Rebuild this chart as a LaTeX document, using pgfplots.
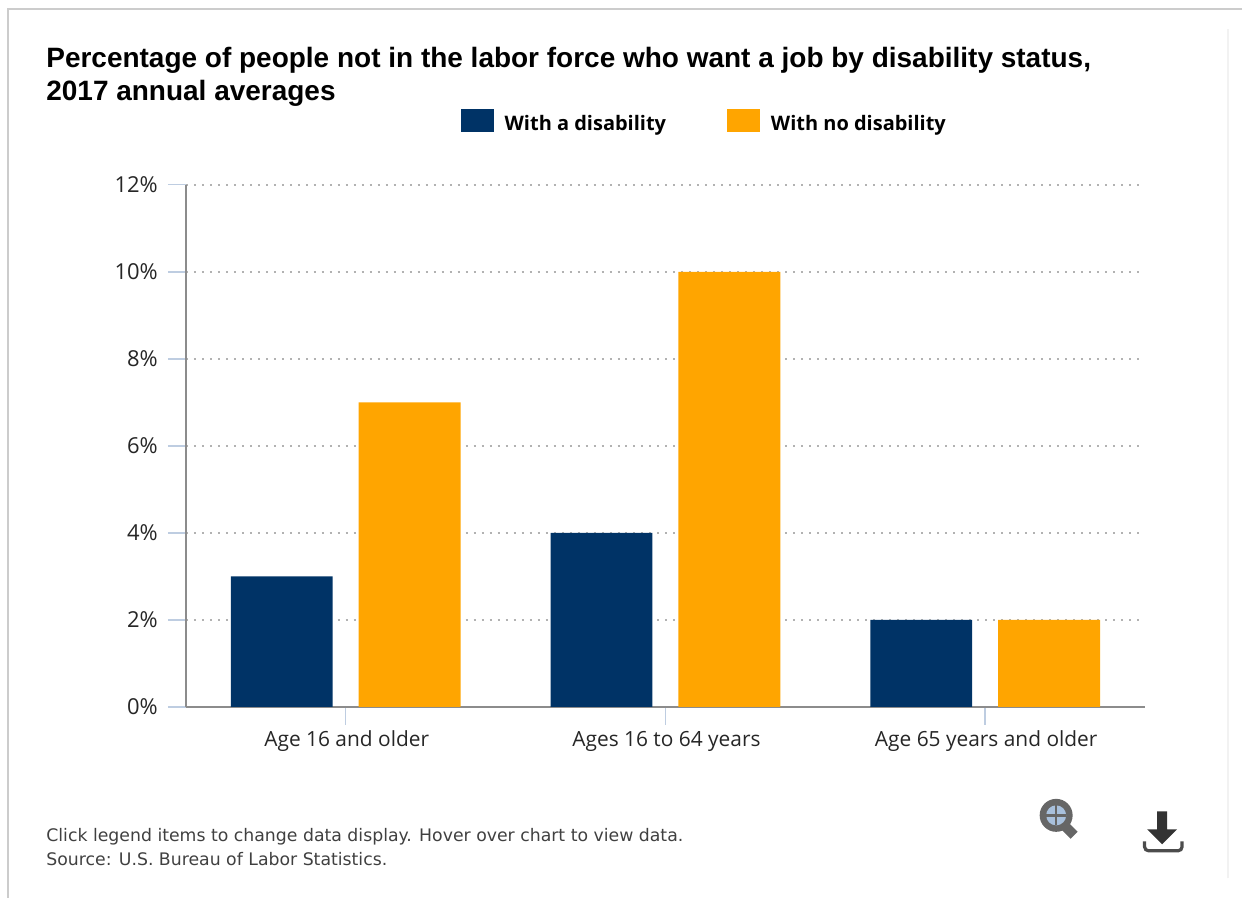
\documentclass[border=0pt]{standalone}
\usepackage{pgfplots}
\pgfplotsset{compat=1.18}
\usepackage{fontspec}
\setmainfont{Open Sans}
\newfontfamily\titlefont{Liberation Sans}
\newfontfamily\notefont{DejaVu Sans}
\definecolor{navy}{RGB}{0,51,102}
\definecolor{amber}{RGB}{255,165,0}
\definecolor{tickblue}{RGB}{190,205,225}
\definecolor{axisgrey}{RGB}{140,140,140}
\definecolor{framegrey}{RGB}{204,204,204}
\definecolor{lensblue}{RGB}{168,192,220}
\pgfplotstableread{
pos disability nodisability
0 3 7
1 4 10
2 2 2
}\agegroups
\begin{document}
\begin{tikzpicture}[x=0.5pt,y=0.5pt]
% page extent and outer frame
\path (0,0) rectangle (1243,899);
\draw[framegrey,line width=1pt] (1243,890) -- (8.5,890) -- (8.5,0);
\draw[black!5,line width=1pt] (1229,20) -- (1229,870);
\begin{axis}[
  at={(93pt,95.75pt)},anchor=south west,
  scale only axis,width=480pt,height=261.3pt,
  xmin=-0.5,xmax=2.5,ymin=0,ymax=12,
  axis x line=bottom,axis y line=left,
  axis line style={axisgrey,line width=1.1pt,-},
  xtick=data,
  xticklabels={Age 16 and older,Ages 16 to 64 years,Age 65 years and older},
  ytick={0,2,...,12},
  yticklabel={\pgfmathprintnumber{\tick}\%},
  /pgf/number format/assume math mode=true,
  tick style={tickblue,line width=0.75pt},
  tick align=outside,major tick length=9pt,
  xticklabel style={font=\fontsize{10.45pt}{12pt}\selectfont,text=black!85,yshift=0.5pt,xshift=0.5pt},
  yticklabel style={font=\fontsize{11pt}{12pt}\selectfont,text=black!85,xshift=-1.5pt},
  ymajorgrids,
  grid style={black!30,line width=0.9pt,dash pattern=on 1pt off 3pt},
  ybar,bar width=51pt,
  legend style={at={(0.5415,1.1185)},anchor=center,draw=none,fill=none,
    legend columns=2,font=\bfseries\fontsize{10pt}{12pt}\selectfont,
    nodes={yshift=-1.5pt},
    /tikz/every even column/.append style={column sep=28.5pt}},
  legend image code/.code={\fill[#1] (0pt,-5.25pt) rectangle (16.5pt,6.25pt);
    \path (20pt,0pt) circle (0pt);},
]
\addplot[fill=navy,draw=none,bar shift=-32pt] table[x=pos,y=disability]{\agegroups};
\addlegendentry{With a disability}
\addplot[fill=amber,draw=none,bar shift=32pt] table[x=pos,y=nodisability]{\agegroups};
\addlegendentry{With no disability}
\end{axis}
% heading
\node[anchor=base west,inner sep=0pt,font=\titlefont\bfseries\fontsize{14pt}{16pt}\selectfont] at (46,831) {Percentage of people not in the labor force who want a job by disability status,};
\node[anchor=base west,inner sep=0pt,font=\titlefont\bfseries\fontsize{14pt}{16pt}\selectfont] at (46,798) {2017 annual averages};
% notes
\node[anchor=base west,inner sep=0pt,font=\notefont\fontsize{8.65pt}{10pt}\selectfont,text=black!75] at (46,57) {Click legend items to change data display. Hover over chart to view data.};
\node[anchor=base west,inner sep=0pt,font=\notefont\fontsize{8.65pt}{10pt}\selectfont,text=black!75] at (46,33) {Source: U.S. Bureau of Labor Statistics.};
% zoom icon
\draw[black!60,line width=5pt,line cap=butt] (1064,74) -- (1075,63);
\fill[black!60] (1057,83) circle (16.5);
\fill[lensblue] (1057,83) circle (10);
\draw[black!60,line width=1.2pt] (1047,83) -- (1067,83) (1057,73) -- (1057,93);
% download icon
\fill[black!80] (1158,87) -- (1168,87) -- (1168,69) -- (1178,69) -- (1163,54) -- (1148,69) -- (1158,69) -- cycle;
\draw[black!70,line width=1.6pt,rounded corners=2pt] (1145.5,57) -- (1145.5,47.5) -- (1183,47.5) -- (1183,57);
\end{tikzpicture}
\end{document}
